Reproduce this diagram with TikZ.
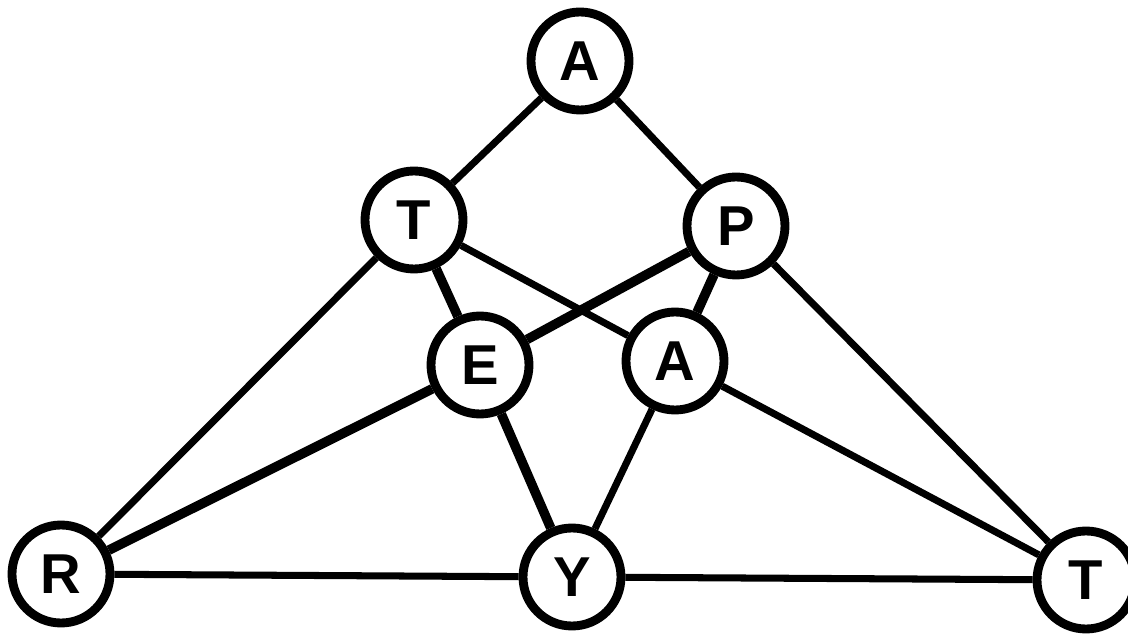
\documentclass[tikz,border=0pt]{standalone}
\usepackage{fontspec}
\setmainfont{Liberation Sans}
\usepackage{tikz}
\usetikzlibrary{positioning}
\tikzset{
  letter/.style={circle, draw=black, fill=white, line width=6.3pt,
    minimum size=2.45cm, inner sep=0pt,
    font=\fontsize{40}{40}\selectfont\bfseries},
  edge/.style={line width=5pt, color=black},
  thickedge/.style={line width=6.8pt, color=black}
}

\begin{document}
\begin{tikzpicture}
  \useasboundingbox (0,0) rectangle (28.2,15.875);
  \node[letter] (a1) at (14.5,14.35) {A};
  \node[letter] (t1) at (10.35,10.375) {T};
  \node[letter] (p)  at (18.4,10.225) {P};
  \node[letter] (e)  at (12.0,6.75) {E};
  \node[letter] (a2) at (16.875,6.85) {A};
  \node[letter] (r)  at (1.525,1.525) {R};
  \node[letter] (y)  at (14.3,1.45) {Y};
  \node[letter] (t2) at (27.15,1.375) {T};
  \draw[edge] (a1) -- (t1);
  \draw[edge] (a1) -- (p);
  \draw[thickedge] (t1) -- (e);
  \draw[edge] (t1) -- (a2);
  \draw[thickedge] (p) -- (e);
  \draw[thickedge] (p) -- (a2);
  \draw[edge] (t1) -- (r);
  \draw[edge] (p) -- (t2);
  \draw[thickedge] (e) -- (r);
  \draw[thickedge] (e) -- (y);
  \draw[edge] (a2) -- (y);
  \draw[edge] (a2) -- (t2);
  \draw[edge] (y) -- (r);
  \draw[edge] (y) -- (t2);
\end{tikzpicture}
\end{document}
